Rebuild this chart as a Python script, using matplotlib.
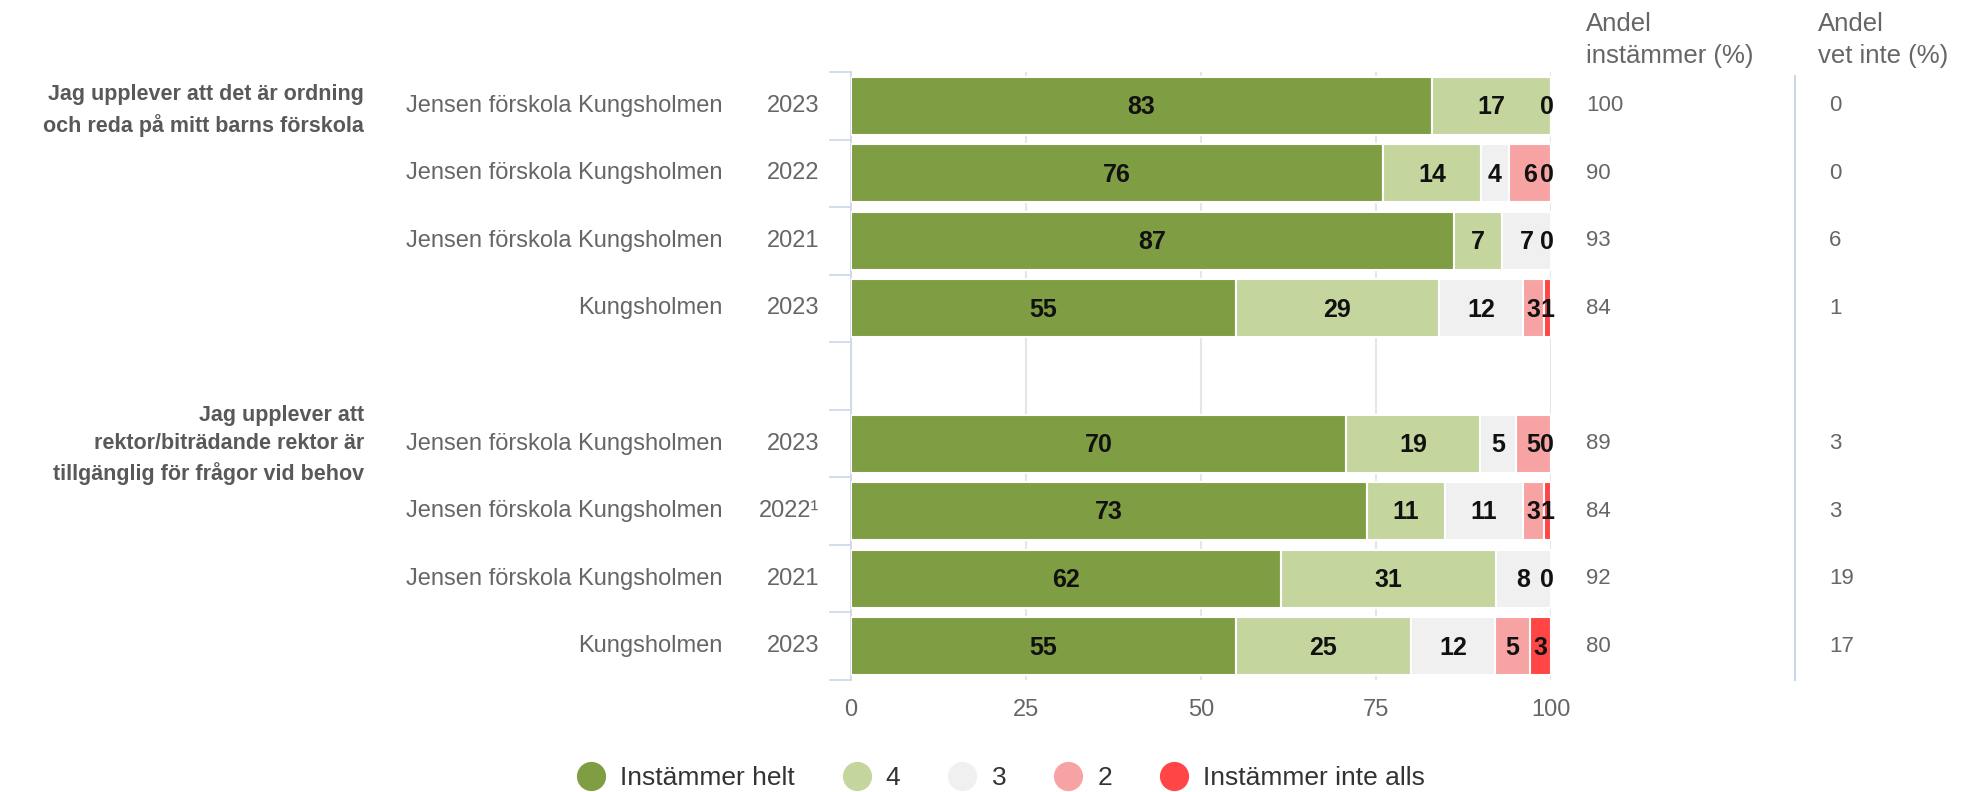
import matplotlib.pyplot as plt
import matplotlib.transforms as mtransforms
from matplotlib.lines import Line2D

plt.rcParams['font.family'] = ['Liberation Sans', 'DejaVu Sans']

# data
schools = ["Jensen förskola Kungsholmen", "Jensen förskola Kungsholmen",
           "Jensen förskola Kungsholmen", "Kungsholmen",
           "Jensen förskola Kungsholmen", "Jensen förskola Kungsholmen",
           "Jensen förskola Kungsholmen", "Kungsholmen"]
years = ["2023", "2022", "2021", "2023", "2023", "2022\u00b9", "2021", "2023"]
questions = ["Jag upplever att det är ordning\noch reda på mitt barns förskola",
             "Jag upplever att\nrektor/biträdande rektor är\ntillgänglig för frågor vid behov"]
helt = [83, 76, 87, 55, 70, 73, 62, 55]
fyra = [17, 14, 7, 29, 19, 11, 31, 25]
tre = [0, 4, 7, 12, 5, 11, 8, 12]
tva = [0, 6, 0, 3, 5, 3, 0, 5]
inte_alls = [0, 0, 0, 1, 0, 1, 0, 3]
andel_instammer = [100, 90, 93, 84, 89, 84, 92, 80]
andel_vet_inte = [0, 0, 6, 1, 3, 3, 19, 17]
legend_labels = ["Instämmer helt", "4", "3", "2", "Instämmer inte alls"]
colors = ["#7f9d42", "#c4d69d", "#f0f0f0", "#f8a3a3", "#ff4545"]

# rows 0-3 first question, slot 4 is the gap, rows 5-8 second question
ypos = [0, 1, 2, 3, 5, 6, 7, 8]

W, H = 1975, 792
fig = plt.figure(figsize=(W / 100, H / 100), dpi=100)
ax = fig.add_axes([851 / W, 1 - 680 / H, 700 / W, 608 / H])

series = [helt, fyra, tre, tva, inte_alls]
for r, y in enumerate(ypos):
    vals = [s[r] for s in series]
    tot = sum(vals)
    left = 0
    for k, v in enumerate(vals):
        w = v / tot * 100
        ax.barh(y, w, left=left, height=0.86, color=colors[k],
                edgecolor='white', linewidth=1.5, zorder=3)
        if v > 0:
            cx = left + w / 2
        else:
            cx = 99.4
        if v > 0 or k == len(vals) - 1:
            ax.text(cx, y + 0.02, str(v), ha='center', va='center', fontsize=18,
                    fontweight='bold', color='#111111', zorder=4)
        left += w

ax.set_xlim(0, 100)
ax.set_ylim(8.5, -0.5)
ax.set_xticks([0, 25, 50, 75, 100])
ax.tick_params(axis='x', length=0, pad=14, labelsize=17, labelcolor='#666666')
ax.set_yticks([i - 0.5 for i in range(10)])
ax.set_yticklabels([])
ax.tick_params(axis='y', length=16, color='#ccd6eb', width=1.2)
ax.grid(axis='x', color='#e6e6e6', linewidth=1.5, zorder=0)
for s in ['top', 'right', 'bottom']:
    ax.spines[s].set_visible(False)
ax.spines['left'].set_color('#ccd6eb')
ax.spines['left'].set_linewidth(1.2)

tr = mtransforms.blended_transform_factory(fig.transFigure, ax.transData)
for r, y in enumerate(ypos):
    ax.text(723 / W, y, schools[r], transform=tr, ha='right', va='center',
            fontsize=17, color='#666666')
    ax.text(819 / W, y, years[r], transform=tr, ha='right', va='center',
            fontsize=17, color='#666666')
    ax.text(1586 / W, y, str(andel_instammer[r]), transform=tr, ha='left',
            va='center', fontsize=16, color='#666666')
    ax.text(1829 / W, y, str(andel_vet_inte[r]), transform=tr, ha='left',
            va='center', fontsize=16, color='#666666')

ax.text(364 / W, 0.07, questions[0], transform=tr, ha='right', va='center',
        fontsize=15.5, fontweight='bold', color='#595959', linespacing=1.55)
ax.text(364 / W, 5.02, questions[1], transform=tr, ha='right', va='center',
        fontsize=15.5, fontweight='bold', color='#595959', linespacing=1.45)

fig.text(1586 / W, 1 - 40 / H, "Andel\ninstämmer (%)", ha='left', va='center',
         fontsize=18.5, color='#666666', linespacing=1.45)
fig.text(1818 / W, 1 - 40 / H, "Andel\nvet inte (%)", ha='left', va='center',
         fontsize=18.5, color='#666666', linespacing=1.45)
fig.add_artist(Line2D([1795 / W, 1795 / W], [1 - 76 / H, 1 - 680 / H],
                      transform=fig.transFigure, color='#ccd6eb', linewidth=1.5))

handles = [Line2D([], [], marker='o', linestyle='none', markersize=20,
                  markerfacecolor=c, markeredgecolor=c) for c in colors]
fig.legend(handles, legend_labels, loc='center', bbox_to_anchor=(1000 / W, 1 - 778 / H),
           ncol=5, frameon=False, fontsize=19, labelcolor='#333333',
           handletextpad=0.5, columnspacing=1.75, handlelength=1.2)

fig.savefig('out.png', dpi=100)
